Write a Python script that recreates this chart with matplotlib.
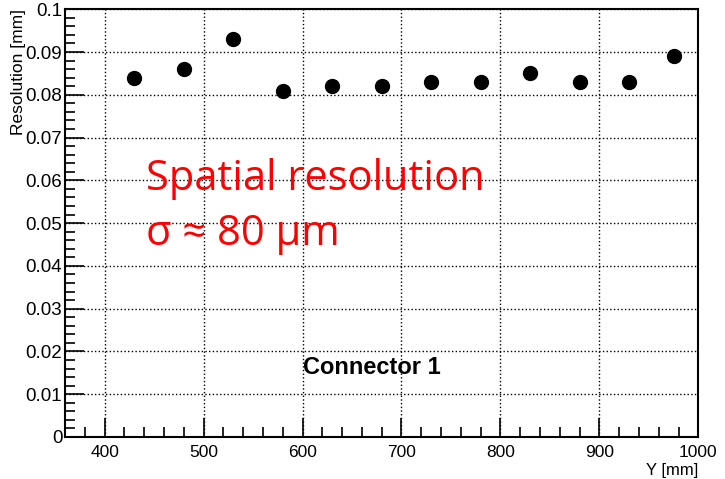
import numpy as np
import matplotlib.pyplot as plt
from matplotlib.ticker import MultipleLocator

# data
ypos = [430, 480, 530, 580, 630, 680, 730, 780, 830, 880, 930, 975]
resolution = [0.084, 0.086, 0.093, 0.081, 0.082, 0.082, 0.083, 0.083,
              0.085, 0.083, 0.083, 0.089]

plt.rcParams['font.family'] = ['Liberation Sans', 'DejaVu Sans']

fig = plt.figure(figsize=(7.25, 4.79), dpi=100)
ax = fig.add_axes([0.0897, 0.0877, 0.8735, 0.893])

ax.plot(ypos, resolution, 'o', color='black', markersize=10, zorder=3)

ax.set_xlim(360, 1000)
ax.set_ylim(0, 0.1)
ax.xaxis.set_major_locator(MultipleLocator(100))
ax.xaxis.set_minor_locator(MultipleLocator(20))
ax.yaxis.set_minor_locator(MultipleLocator(0.002))
ax.set_yticks(np.arange(0, 0.101, 0.01))
ax.set_yticklabels(['0'] + ['%.2f' % v for v in np.arange(0.01, 0.1, 0.01)] + ['0.1'])

ax.tick_params(which='both', direction='in', top=False, right=False,
               labelsize=12.5, width=1.2)
ax.tick_params(axis='y', labelsize=13.5)
ax.tick_params(which='major', length=14)
ax.tick_params(which='minor', length=7)
ax.tick_params(axis='x', pad=6)
ax.tick_params(axis='y', pad=2)
for s in ax.spines.values():
    s.set_linewidth(1.5)

ax.grid(True, which='major', linestyle=':', color='black', linewidth=1)

ax.set_xlabel('Y [mm]', fontsize=12, loc='right', labelpad=2)
ax.set_ylabel('Resolution [mm]', fontsize=12.5, loc='top', labelpad=0)

red_font = ['Open Sans', 'DejaVu Sans']
ax.text(441.5, 0.0577, 'Spatial resolution', fontsize=30, color='red',
        family=red_font, ha='left', va='baseline')
ax.text(441.5, 0.0449, '\u03c3 \u2248 80 \u03bcm', fontsize=30, color='red',
        family=red_font, ha='left', va='baseline')
ax.text(600.4, 0.0147, 'Connector 1', fontsize=17, fontweight='bold',
        ha='left', va='baseline')

fig.savefig('out.png', dpi=100)
